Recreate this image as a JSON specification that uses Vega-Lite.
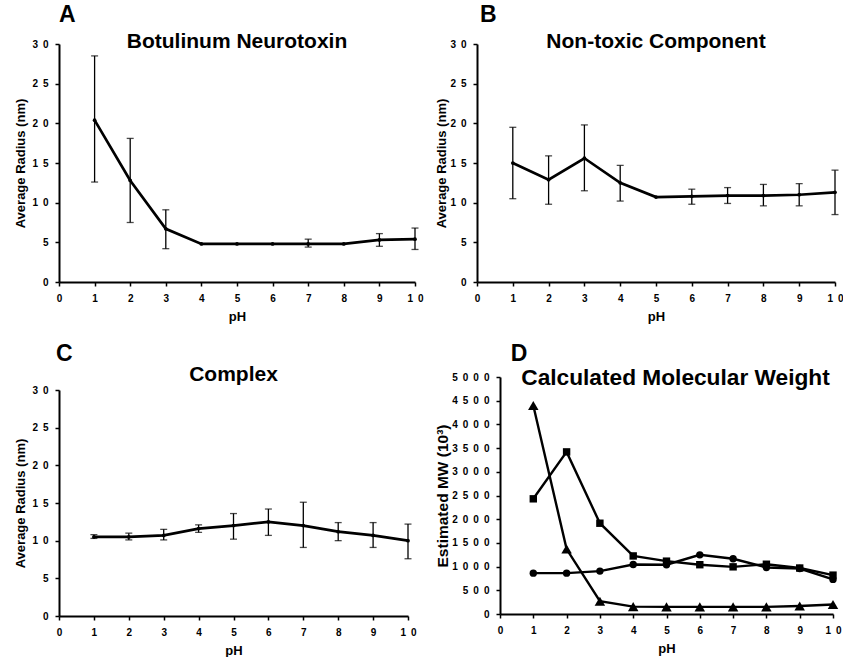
{
  "$schema": "https://vega.github.io/schema/vega-lite/v6.json",
  "background": "white",
  "padding": {"left": 14, "top": 4, "right": 0, "bottom": 0},
  "config": {
    "view": {"stroke": null},
    "font": "Liberation Sans",
    "axis": {
      "grid": false,
      "domainColor": "black",
      "domainWidth": 2,
      "tickColor": "black",
      "tickWidth": 1.5,
      "tickSize": 4,
      "labelFont": "Liberation Sans",
      "labelFontWeight": "bold",
      "labelFontSize": 10,
      "labelColor": "black",
      "labelPadding": 7,
      "labelOverlap": false,
      "labelFlush": false,
      "titleFont": "Liberation Sans",
      "titleFontWeight": "bold",
      "titleFontSize": 13,
      "titleColor": "black"
    },
    "axisX": {"titlePadding": 7},
    "axisY": {"titlePadding": 4},
    "title": {"font": "Liberation Sans", "fontWeight": "bold", "color": "black"}
  },
  "datasets": {
    "a": [
      {"pH": 1, "r": 20.4, "lo": 12.6, "hi": 28.5},
      {"pH": 2, "r": 12.8, "lo": 7.5, "hi": 18.1},
      {"pH": 3, "r": 6.7, "lo": 4.2, "hi": 9.1},
      {"pH": 4, "r": 4.8, "lo": null, "hi": null},
      {"pH": 5, "r": 4.8, "lo": null, "hi": null},
      {"pH": 6, "r": 4.8, "lo": null, "hi": null},
      {"pH": 7, "r": 4.8, "lo": 4.4, "hi": 5.4},
      {"pH": 8, "r": 4.8, "lo": null, "hi": null},
      {"pH": 9, "r": 5.3, "lo": 4.5, "hi": 6.1},
      {"pH": 10, "r": 5.4, "lo": 4.1, "hi": 6.8}
    ],
    "b": [
      {"pH": 1, "r": 15.0, "lo": 10.5, "hi": 19.5},
      {"pH": 2, "r": 12.9, "lo": 9.8, "hi": 15.9},
      {"pH": 3, "r": 15.6, "lo": 11.5, "hi": 19.8},
      {"pH": 4, "r": 12.5, "lo": 10.2, "hi": 14.7},
      {"pH": 5, "r": 10.7, "lo": null, "hi": null},
      {"pH": 6, "r": 10.8, "lo": 9.8, "hi": 11.7},
      {"pH": 7, "r": 10.9, "lo": 9.9, "hi": 11.9},
      {"pH": 8, "r": 10.9, "lo": 9.6, "hi": 12.3},
      {"pH": 9, "r": 11.0, "lo": 9.6, "hi": 12.4},
      {"pH": 10, "r": 11.3, "lo": 8.5, "hi": 14.1}
    ],
    "c": [
      {"pH": 1, "r": 10.5, "lo": 10.3, "hi": 10.8},
      {"pH": 2, "r": 10.5, "lo": 10.1, "hi": 11.0},
      {"pH": 3, "r": 10.7, "lo": 10.1, "hi": 11.5},
      {"pH": 4, "r": 11.6, "lo": 11.1, "hi": 12.1},
      {"pH": 5, "r": 12.0, "lo": 10.2, "hi": 13.6},
      {"pH": 6, "r": 12.5, "lo": 10.7, "hi": 14.2},
      {"pH": 7, "r": 12.0, "lo": 9.1, "hi": 15.1},
      {"pH": 8, "r": 11.2, "lo": 10.0, "hi": 12.4},
      {"pH": 9, "r": 10.7, "lo": 9.1, "hi": 12.4},
      {"pH": 10, "r": 10.0, "lo": 7.6, "hi": 12.2}
    ],
    "d": [
      {"pH": 1, "mw": 4400, "series": "Neurotoxin"},
      {"pH": 2, "mw": 1370, "series": "Neurotoxin"},
      {"pH": 3, "mw": 270, "series": "Neurotoxin"},
      {"pH": 4, "mw": 155, "series": "Neurotoxin"},
      {"pH": 5, "mw": 150, "series": "Neurotoxin"},
      {"pH": 6, "mw": 150, "series": "Neurotoxin"},
      {"pH": 7, "mw": 150, "series": "Neurotoxin"},
      {"pH": 8, "mw": 150, "series": "Neurotoxin"},
      {"pH": 9, "mw": 170, "series": "Neurotoxin"},
      {"pH": 10, "mw": 200, "series": "Neurotoxin"},
      {"pH": 1, "mw": 2430, "series": "Non-toxic Component"},
      {"pH": 2, "mw": 3420, "series": "Non-toxic Component"},
      {"pH": 3, "mw": 1915, "series": "Non-toxic Component"},
      {"pH": 4, "mw": 1225, "series": "Non-toxic Component"},
      {"pH": 5, "mw": 1115, "series": "Non-toxic Component"},
      {"pH": 6, "mw": 1040, "series": "Non-toxic Component"},
      {"pH": 7, "mw": 995, "series": "Non-toxic Component"},
      {"pH": 8, "mw": 1050, "series": "Non-toxic Component"},
      {"pH": 9, "mw": 970, "series": "Non-toxic Component"},
      {"pH": 10, "mw": 820, "series": "Non-toxic Component"},
      {"pH": 1, "mw": 862, "series": "Complex"},
      {"pH": 2, "mw": 862, "series": "Complex"},
      {"pH": 3, "mw": 905, "series": "Complex"},
      {"pH": 4, "mw": 1045, "series": "Complex"},
      {"pH": 5, "mw": 1040, "series": "Complex"},
      {"pH": 6, "mw": 1248, "series": "Complex"},
      {"pH": 7, "mw": 1165, "series": "Complex"},
      {"pH": 8, "mw": 982, "series": "Complex"},
      {"pH": 9, "mw": 960, "series": "Complex"},
      {"pH": 10, "mw": 730, "series": "Complex"}
    ]
  },
  "columns": 2,
  "align": "none",
  "spacing": {"row": 20, "column": 11},
  "concat": [
    {
      "title": {"text": "A", "anchor": "start", "fontSize": 23, "baseline": "alphabetic", "offset": -14, "dx": 44},
      "vconcat": [
        {
          "title": {"text": "Botulinum Neurotoxin", "anchor": "middle", "fontSize": 21, "baseline": "alphabetic", "offset": -30},
          "width": 356, "height": 238,
          "data": {"name": "a"},
          "encoding": {
            "x": {"field": "pH", "type": "quantitative", "scale": {"domain": [0, 10], "nice": false}, "axis": {"values": [0,1,2,3,4,5,6,7,8,9,10], "title": "pH", "labelExpr": "join(split(datum.label, ''), '\u2002')"}}
          },
          "layer": [
            {"mark": {"type": "line", "color": "black", "strokeWidth": 2.7},
             "encoding": {"y": {"field": "r", "type": "quantitative", "scale": {"domain": [0, 30], "nice": false}, "title": "Average Radius (nm)", "axis": {"values": [0,5,10,15,20,25,30], "labelExpr": "join(split(datum.label, ''), '\u2002')"}}}},
            {"mark": {"type": "point", "filled": true, "color": "black", "size": 14, "opacity": 1},
             "encoding": {"y": {"field": "r", "type": "quantitative", "title": "Average Radius (nm)", "axis": {"values": [0,5,10,15,20,25,30], "labelExpr": "join(split(datum.label, ''), '\u2002')"}}}},
            {"transform": [{"filter": "datum.lo != null"}],
             "mark": {"type": "errorbar", "ticks": {"size": 7, "color": "black", "thickness": 1.3}, "rule": {"color": "black", "strokeWidth": 1.3}},
             "encoding": {"y": {"field": "lo", "type": "quantitative", "title": "Average Radius (nm)", "axis": {"values": [0,5,10,15,20,25,30], "labelExpr": "join(split(datum.label, ''), '\u2002')"}}, "y2": {"field": "hi"}}}
          ]
        }
      ]
    },
    {
      "title": {"text": "B", "anchor": "start", "fontSize": 23, "baseline": "alphabetic", "offset": -14, "dx": 44},
      "vconcat": [
        {
          "title": {"text": "Non-toxic Component", "anchor": "middle", "fontSize": 21, "baseline": "alphabetic", "offset": -30},
          "width": 358, "height": 238,
          "data": {"name": "b"},
          "encoding": {
            "x": {"field": "pH", "type": "quantitative", "scale": {"domain": [0, 10], "nice": false}, "axis": {"values": [0,1,2,3,4,5,6,7,8,9,10], "title": "pH", "labelExpr": "join(split(datum.label, ''), '\u2002')"}}
          },
          "layer": [
            {"mark": {"type": "line", "color": "black", "strokeWidth": 2.7},
             "encoding": {"y": {"field": "r", "type": "quantitative", "scale": {"domain": [0, 30], "nice": false}, "title": "Average Radius (nm)", "axis": {"values": [0,5,10,15,20,25,30], "titlePadding": 1, "labelExpr": "join(split(datum.label, ''), '\u2002')"}}}},
            {"mark": {"type": "point", "filled": true, "color": "black", "size": 14, "opacity": 1},
             "encoding": {"y": {"field": "r", "type": "quantitative", "title": "Average Radius (nm)", "axis": {"values": [0,5,10,15,20,25,30], "titlePadding": 1, "labelExpr": "join(split(datum.label, ''), '\u2002')"}}}},
            {"transform": [{"filter": "datum.lo != null"}],
             "mark": {"type": "errorbar", "ticks": {"size": 7, "color": "black", "thickness": 1.3}, "rule": {"color": "black", "strokeWidth": 1.3}},
             "encoding": {"y": {"field": "lo", "type": "quantitative", "title": "Average Radius (nm)", "axis": {"values": [0,5,10,15,20,25,30], "titlePadding": 1, "labelExpr": "join(split(datum.label, ''), '\u2002')"}}, "y2": {"field": "hi"}}}
          ]
        }
      ]
    },
    {
      "title": {"text": "C", "anchor": "start", "fontSize": 23, "baseline": "alphabetic", "offset": -20, "dx": 41},
      "vconcat": [
        {
          "title": {"text": "Complex", "anchor": "middle", "fontSize": 21, "baseline": "alphabetic", "offset": -17},
          "width": 349, "height": 226,
          "data": {"name": "c"},
          "encoding": {
            "x": {"field": "pH", "type": "quantitative", "scale": {"domain": [0, 10], "nice": false}, "axis": {"values": [0,1,2,3,4,5,6,7,8,9,10], "title": "pH", "labelExpr": "join(split(datum.label, ''), '\u2002')"}}
          },
          "layer": [
            {"mark": {"type": "line", "color": "black", "strokeWidth": 2.7},
             "encoding": {"y": {"field": "r", "type": "quantitative", "scale": {"domain": [0, 30], "nice": false}, "title": "Average Radius (nm)", "axis": {"values": [0,5,10,15,20,25,30], "labelExpr": "join(split(datum.label, ''), '\u2002')"}}}},
            {"mark": {"type": "point", "filled": true, "color": "black", "size": 14, "opacity": 1},
             "encoding": {"y": {"field": "r", "type": "quantitative", "title": "Average Radius (nm)", "axis": {"values": [0,5,10,15,20,25,30], "labelExpr": "join(split(datum.label, ''), '\u2002')"}}}},
            {"transform": [{"filter": "datum.lo != null"}],
             "mark": {"type": "errorbar", "ticks": {"size": 7, "color": "black", "thickness": 1.3}, "rule": {"color": "black", "strokeWidth": 1.3}},
             "encoding": {"y": {"field": "lo", "type": "quantitative", "title": "Average Radius (nm)", "axis": {"values": [0,5,10,15,20,25,30], "labelExpr": "join(split(datum.label, ''), '\u2002')"}}, "y2": {"field": "hi"}}}
          ]
        }
      ]
    },
    {
      "title": {"text": "D", "anchor": "start", "fontSize": 23, "baseline": "alphabetic", "offset": -17, "dx": 75},
      "vconcat": [
        {
          "title": {"text": "Calculated Molecular Weight", "anchor": "middle", "fontSize": 22.7, "baseline": "alphabetic", "offset": -36, "dx": 9},
          "width": 333, "height": 237,
          "data": {"name": "d"},
          "encoding": {
            "x": {"field": "pH", "type": "quantitative", "scale": {"domain": [0, 10], "nice": false}, "axis": {"values": [0,1,2,3,4,5,6,7,8,9,10], "title": "pH", "labelExpr": "join(split(datum.label, ''), '\u2002')"}},
            "y": {"field": "mw", "type": "quantitative", "scale": {"domain": [0, 5000], "nice": false}, "title": "Estimated MW (10³)", "axis": {"values": [0,500,1000,1500,2000,2500,3000,3500,4000,4500,5000], "format": "d", "titleFontSize": 15.5, "titlePadding": 1, "labelExpr": "join(split(datum.label, ''), '\u2002')"}}
          },
          "layer": [
            {"mark": {"type": "line", "color": "black", "strokeWidth": 2.4},
             "encoding": {"detail": {"field": "series", "type": "nominal"}}},
            {"transform": [{"filter": "datum.series != 'Neurotoxin'"}],
             "mark": {"type": "point", "filled": true, "color": "black", "size": 55, "opacity": 1},
             "encoding": {"shape": {"field": "series", "type": "nominal", "scale": {"domain": ["Non-toxic Component", "Complex"], "range": ["square", "circle"]}, "legend": null}}},
            {"transform": [{"filter": "datum.series == 'Neurotoxin'"}],
             "mark": {"type": "point", "filled": true, "color": "black", "size": 110, "opacity": 1, "shape": "triangle-up"}}
          ]
        }
      ]
    }
  ]
}
